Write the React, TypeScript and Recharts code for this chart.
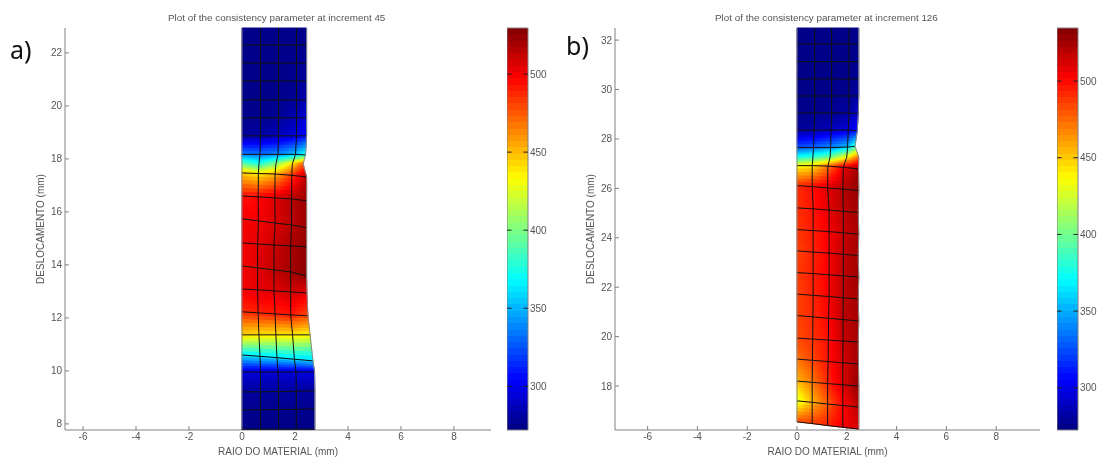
import { ComposedChart, Scatter, XAxis, YAxis } from 'recharts';

type Node = { x: number; y: number; v: number };
type Pt = { x: number; y: number };

const TEXT = '#555';
const AXIS = '#808080';
const FONT = '"Liberation Sans", Arial, sans-serif';

// plot a) increment 45
const xNodesA = [
  [0, 0.7, 1.38, 2.06, 2.44], [0, 0.7, 1.38, 2.06, 2.44], [0, 0.7, 1.38, 2.06, 2.44],
  [0, 0.7, 1.38, 2.06, 2.44], [0, 0.7, 1.38, 2.06, 2.44], [0, 0.7, 1.38, 2.06, 2.44],
  [0, 0.7, 1.38, 2.06, 2.44], [0, 0.68, 1.36, 2.02, 2.4], [0, 0.64, 1.28, 1.9, 2.31],
  [0, 0.62, 1.25, 1.88, 2.44], [0, 0.61, 1.24, 1.87, 2.44], [0, 0.62, 1.25, 1.87, 2.44],
  [0, 0.59, 1.21, 1.84, 2.44], [0, 0.59, 1.21, 1.84, 2.44], [0, 0.59, 1.21, 1.84, 2.45],
  [0, 0.61, 1.25, 1.84, 2.49], [0, 0.64, 1.28, 1.91, 2.57], [0, 0.68, 1.32, 1.98, 2.68],
  [0, 0.7, 1.36, 2.04, 2.74], [0, 0.7, 1.38, 2.05, 2.75], [0, 0.7, 1.38, 2.05, 2.75],
  [0, 0.7, 1.38, 2.05, 2.75],
];
const yNodesA = [
  [22.94, 22.94, 22.94, 22.94, 22.94], [22.3, 22.3, 22.3, 22.3, 22.3], [21.62, 21.62, 21.62, 21.62, 21.62],
  [20.94, 20.94, 20.94, 20.94, 20.94], [20.23, 20.23, 20.23, 20.23, 20.23], [19.55, 19.55, 19.55, 19.55, 19.55],
  [18.87, 18.87, 18.87, 18.87, 18.87], [18.17, 18.17, 18.17, 18.17, 18.15], [17.81, 17.8, 17.8, 17.8, 17.81],
  [17.47, 17.45, 17.43, 17.38, 17.32], [16.6, 16.57, 16.53, 16.49, 16.42], [15.74, 15.66, 15.58, 15.51, 15.4],
  [14.83, 14.79, 14.75, 14.72, 14.68], [13.96, 13.89, 13.81, 13.74, 13.58], [13.09, 13.06, 13.02, 12.98, 12.94],
  [12.23, 12.19, 12.15, 12.11, 12.08], [11.36, 11.36, 11.36, 11.36, 11.36], [10.6, 10.55, 10.5, 10.44, 10.38],
  [9.96, 9.96, 9.96, 9.96, 9.96], [9.21, 9.21, 9.22, 9.23, 9.25], [8.53, 8.53, 8.54, 8.55, 8.57],
  [7.8, 7.8, 7.8, 7.8, 7.8],
];
const valuesA = [
  [275, 275, 275, 275, 275], [275, 275, 275, 275, 276], [275, 275, 275, 276, 277],
  [275, 275, 275, 276, 279], [275, 275, 276, 278, 285], [275, 276, 278, 285, 295],
  [279, 281, 287, 296, 305], [335, 332, 338, 352, 372], [392, 376, 402, 440, 472],
  [445, 436, 450, 482, 516], [492, 496, 505, 516, 522], [500, 500, 505, 515, 521],
  [500, 503, 510, 518, 525], [500, 505, 512, 520, 526], [500, 503, 505, 510, 503],
  [488, 490, 490, 492, 480], [445, 441, 440, 440, 435], [365, 364, 362, 360, 358],
  [296, 295, 295, 296, 298], [280, 280, 280, 280, 280], [276, 276, 276, 276, 276],
  [274, 274, 274, 274, 274],
];

// plot b) increment 126
const xNodesB = [
  [0, 0.71, 1.39, 2.09, 2.48], [0, 0.71, 1.39, 2.09, 2.48], [0, 0.71, 1.39, 2.09, 2.48],
  [0, 0.71, 1.39, 2.09, 2.48], [0, 0.71, 1.39, 2.09, 2.48], [0, 0.71, 1.39, 2.09, 2.46],
  [0, 0.69, 1.37, 2.06, 2.42], [0, 0.66, 1.35, 2.03, 2.33], [0, 0.64, 1.33, 2.0, 2.48],
  [0, 0.61, 1.24, 1.86, 2.47], [0, 0.61, 1.23, 1.84, 2.48], [0, 0.65, 1.29, 1.86, 2.46],
  [0, 0.65, 1.29, 1.86, 2.48], [0, 0.65, 1.29, 1.86, 2.46], [0, 0.65, 1.29, 1.86, 2.48],
  [0, 0.65, 1.29, 1.86, 2.46], [0, 0.64, 1.27, 1.85, 2.48], [0, 0.63, 1.26, 1.85, 2.46],
  [0, 0.62, 1.25, 1.84, 2.47], [0, 0.61, 1.23, 1.84, 2.48], [0, 0.61, 1.23, 1.84, 2.48],
  [0, 0.61, 1.23, 1.84, 2.48],
];
const yNodesB = [
  [32.49, 32.49, 32.49, 32.49, 32.49], [31.85, 31.85, 31.85, 31.85, 31.85], [31.13, 31.13, 31.13, 31.13, 31.13],
  [30.43, 30.43, 30.43, 30.43, 30.43], [29.74, 29.74, 29.74, 29.74, 29.74], [29.05, 29.05, 29.05, 29.05, 29.03],
  [28.36, 28.36, 28.36, 28.36, 28.33], [27.65, 27.65, 27.65, 27.67, 27.7], [27.27, 27.27, 27.27, 27.27, 27.27],
  [26.92, 26.92, 26.9, 26.85, 26.79], [26.11, 26.07, 26.02, 25.97, 25.91], [25.21, 25.17, 25.12, 25.07, 25.02],
  [24.33, 24.29, 24.25, 24.2, 24.15], [23.47, 23.42, 23.38, 23.33, 23.28], [22.59, 22.55, 22.5, 22.46, 22.41],
  [21.72, 21.67, 21.62, 21.57, 21.52], [20.85, 20.8, 20.74, 20.69, 20.63], [19.94, 19.9, 19.86, 19.82, 19.78],
  [19.09, 19.04, 18.99, 18.94, 18.89], [18.2, 18.15, 18.1, 18.05, 18.0], [17.4, 17.34, 17.27, 17.21, 17.15],
  [16.55, 16.48, 16.4, 16.33, 16.26],
];
const valuesB = [
  [275, 275, 275, 275, 275], [275, 275, 275, 275, 276], [275, 275, 275, 275, 277],
  [275, 275, 275, 276, 278], [275, 275, 276, 277, 282], [276, 276, 277, 282, 292],
  [279, 282, 288, 296, 308], [325, 330, 340, 352, 380], [372, 380, 395, 430, 470],
  [435, 440, 470, 505, 526], [490, 498, 510, 520, 530], [490, 497, 508, 518, 525],
  [488, 495, 503, 515, 525], [485, 493, 503, 517, 525], [487, 494, 503, 518, 527],
  [485, 493, 503, 518, 525], [485, 491, 501, 518, 525], [483, 489, 498, 515, 525],
  [472, 484, 497, 512, 525], [455, 470, 492, 510, 530], [425, 455, 478, 500, 520],
  [482, 486, 493, 505, 510],
];

const xTicks = [-6, -4, -2, 0, 2, 4, 6, 8];
const yTicksA = [8, 10, 12, 14, 16, 18, 20, 22];
const yTicksB = [18, 20, 22, 24, 26, 28, 30, 32];
const barTicks = [300, 350, 400, 450, 500];

const hiddenRow = 8; // mid-side row at the notch, has no mesh line

function clip(v: number) {
  return Math.max(0, Math.min(1, v));
}

function jetAt(q: number) {
  const r = clip(Math.min(4 * q - 1.5, -4 * q + 4.5));
  const g = clip(Math.min(4 * q - 0.5, -4 * q + 3.5));
  const b = clip(Math.min(4 * q + 0.5, -4 * q + 2.5));
  return `rgb(${Math.round(r * 255)},${Math.round(g * 255)},${Math.round(b * 255)})`;
}

function mix(a: number, b: number, c: number, d: number, s: number, t: number) {
  return (a * (1 - s) + b * s) * (1 - t) + (d * (1 - s) + c * s) * t;
}

// filled mesh, shaded between the nodes; points come from the chart's scales
function MeshFill({ points, values, cols, min, max }: { points: Pt[]; values: number[]; cols: number; min: number; max: number }) {
  const steps = 6;
  const out: React.ReactNode[] = [];
  const rows = points.length / cols;
  for (let r = 0; r < rows - 1; r++) {
    for (let c = 0; c < cols - 1; c++) {
      const i0 = r * cols + c;
      const i1 = i0 + 1;
      const i2 = i0 + cols + 1;
      const i3 = i0 + cols;
      const [a, b, cc, d] = [points[i0], points[i1], points[i2], points[i3]];
      const at = (s: number, t: number) =>
        `${mix(a.x, b.x, cc.x, d.x, s, t).toFixed(2)},${mix(a.y, b.y, cc.y, d.y, s, t).toFixed(2)}`;
      for (let m = 0; m < steps; m++) {
        for (let n = 0; n < steps; n++) {
          const s0 = n / steps;
          const s1 = (n + 1) / steps;
          const t0 = m / steps;
          const t1 = (m + 1) / steps;
          const v = mix(values[i0], values[i1], values[i2], values[i3], (s0 + s1) / 2, (t0 + t1) / 2);
          const col = jetAt((v - min) / (max - min));
          out.push(
            <polygon
              key={`${r}-${c}-${m}-${n}`}
              points={`${at(s0, t0)} ${at(s1, t0)} ${at(s1, t1)} ${at(s0, t1)}`}
              fill={col}
              stroke={col}
              strokeWidth={1}
              strokeLinejoin="round"
            />
          );
        }
      }
    }
  }
  return <g>{out}</g>;
}

// colour bar: one flat band per level of the 64 step map
function BarFill({ points }: { points: Pt[] }) {
  const levels = points.length / 2 - 1;
  const out: React.ReactNode[] = [];
  for (let i = 0; i < levels; i++) {
    const [a, b, c, d] = [points[i * 2], points[i * 2 + 1], points[i * 2 + 3], points[i * 2 + 2]];
    out.push(
      <polygon
        key={i}
        points={`${a.x},${a.y} ${b.x},${b.y} ${c.x},${c.y} ${d.x},${d.y}`}
        fill={jetAt((i + 0.5) / levels)}
        shapeRendering="crispEdges"
      />
    );
  }
  return <g>{out}</g>;
}

const noDot = () => <g />;

type PlotProps = {
  left: number;
  width: number;
  plotLeft: number;
  plotRight: number;
  xDomain: [number, number];
  yDomain: [number, number];
  yTicks: number[];
  xs: number[][];
  ys: number[][];
  vs: number[][];
  barDomain: [number, number];
};

function Plot({ left, width, plotLeft, plotRight, xDomain, yDomain, yTicks, xs, ys, vs, barDomain }: PlotProps) {
  const nodes: Node[] = xs.flatMap((row, r) => row.map((x, c) => ({ x, y: ys[r][c], v: vs[r][c] })));
  const cols = xs[0].length;
  return (
    <div style={{ position: 'absolute', left, top: 0 }}>
      <ComposedChart
        width={width}
        height={458}
        margin={{ top: 28, right: width - plotRight, left: 0, bottom: 0 }}
      >
        <XAxis
          type="number"
          dataKey="x"
          domain={xDomain}
          ticks={xTicks}
          interval={0}
          height={28}
          stroke={AXIS}
          tickSize={-4}
          tickMargin={7}
          tick={{ fontSize: 10, fill: TEXT, fontFamily: FONT }}
          label={{ value: 'RAIO DO MATERIAL (mm)', position: 'insideBottom', offset: 3, fontSize: 10, fill: TEXT, fontFamily: FONT }}
        />
        <YAxis
          type="number"
          dataKey="y"
          domain={yDomain}
          ticks={yTicks}
          interval={0}
          width={plotLeft}
          stroke={AXIS}
          tickSize={-4}
          tickMargin={7}
          tick={{ fontSize: 10, fill: TEXT, fontFamily: FONT }}
          label={{ value: 'DESLOCAMENTO (mm)', angle: -90, position: 'insideLeft', offset: plotLeft - 25, fontSize: 10, fill: TEXT, fontFamily: FONT, style: { textAnchor: 'middle' } }}
        />
        <Scatter
          data={nodes}
          isAnimationActive={false}
          shape={noDot}
          line={(p: { points: Pt[] }) => (
            <MeshFill points={p.points} values={nodes.map((n) => n.v)} cols={cols} min={barDomain[0]} max={barDomain[1]} />
          )}
        />
        {xs.map((row, r) =>
          r === 0 || r === hiddenRow ? null : (
            <Scatter
              key={`row-${r}`}
              data={row.map((x, c) => ({ x, y: ys[r][c] }))}
              isAnimationActive={false}
              shape={noDot}
              line={{ stroke: '#111', strokeWidth: 1 }}
            />
          )
        )}
        {xs[0].map((_, c) => (
          <Scatter
            key={`col-${c}`}
            data={xs.map((row, r) => ({ x: row[c], y: ys[r][c] }))}
            isAnimationActive={false}
            shape={noDot}
            line={{ stroke: c === 0 || c === cols - 1 ? '#8a8a8a' : '#111', strokeWidth: 1 }}
          />
        ))}
      </ComposedChart>
    </div>
  );
}

function ColorBar({ left, domain }: { left: number; domain: [number, number] }) {
  const span = domain[1] - domain[0];
  const edges = Array.from({ length: 65 }, (_, i) => domain[0] + (span * i) / 64);
  const bandPoints = edges.flatMap((y) => [{ x: 0, y }, { x: 1, y }]);
  const frame = [
    { x: 0, y: domain[1] },
    { x: 1, y: domain[1] },
    { x: 1, y: domain[0] },
    { x: 0, y: domain[0] },
    { x: 0, y: domain[1] },
  ];
  return (
    <div style={{ position: 'absolute', left, top: 0 }}>
      <ComposedChart width={60} height={458} margin={{ top: 28, right: 0, left: 0, bottom: 28 }}>
        <XAxis type="number" dataKey="x" domain={[0, 1]} hide />
        <YAxis
          orientation="right"
          dataKey="y"
          type="number"
          domain={domain}
          ticks={barTicks}
          interval={0}
          width={39}
          axisLine={false}
          tickLine={false}
          tickSize={0}
          tickMargin={2}
          tick={{ fontSize: 10, fill: TEXT, fontFamily: FONT }}
        />
        <Scatter
          data={bandPoints}
          isAnimationActive={false}
          shape={noDot}
          line={(p: { points: Pt[] }) => <BarFill points={p.points} />}
        />
        <Scatter data={frame} isAnimationActive={false} shape={noDot} line={{ stroke: AXIS, strokeWidth: 1 }} />
        {barTicks.flatMap((t) => [
          <Scatter
            key={`l-${t}`}
            data={[{ x: 0, y: t }, { x: 0.22, y: t }]}
            isAnimationActive={false}
            shape={noDot}
            line={{ stroke: '#222', strokeWidth: 1 }}
          />,
          <Scatter
            key={`r-${t}`}
            data={[{ x: 0.78, y: t }, { x: 1, y: t }]}
            isAnimationActive={false}
            shape={noDot}
            line={{ stroke: '#222', strokeWidth: 1 }}
          />,
        ])}
      </ComposedChart>
    </div>
  );
}

function Caption({ x, y, size, text, color = TEXT, family = FONT }: { x: number; y: number; size: number; text: string; color?: string; family?: string }) {
  return (
    <div style={{ position: 'absolute', left: x, top: y, fontSize: size, lineHeight: 1, color, fontFamily: family, whiteSpace: 'nowrap' }}>
      {text}
    </div>
  );
}

export default function App() {
  return (
    <div style={{ position: 'absolute', left: 0, top: 0, width: 1099, height: 458, background: '#fff', overflow: 'hidden', filter: 'blur(0.35px)' }}>
      <Plot
        left={0}
        width={500}
        plotLeft={65}
        plotRight={491}
        xDomain={[-6.68, 9.4]}
        yDomain={[7.77, 22.94]}
        yTicks={yTicksA}
        xs={xNodesA}
        ys={yNodesA}
        vs={valuesA}
        barDomain={[272, 529.5]}
      />
      <ColorBar left={507} domain={[272, 529.5]} />
      <Plot
        left={550}
        width={500}
        plotLeft={65}
        plotRight={490}
        xDomain={[-7.31, 9.76]}
        yDomain={[16.22, 32.49]}
        yTicks={yTicksB}
        xs={xNodesB}
        ys={yNodesB}
        vs={valuesB}
        barDomain={[272.5, 534.6]}
      />
      <ColorBar left={1057} domain={[272.5, 534.6]} />
      <Caption x={168} y={13} size={9.9} text="Plot of the consistency parameter at increment 45" />
      <Caption x={715} y={13} size={9.9} text="Plot of the consistency parameter at increment 126" />
      <Caption x={10} y={37} size={25} text="a)" color="#111" family='"Noto Sans", sans-serif' />
      <Caption x={566} y={33} size={25} text="b)" color="#111" family='"Noto Sans", sans-serif' />
    </div>
  );
}
